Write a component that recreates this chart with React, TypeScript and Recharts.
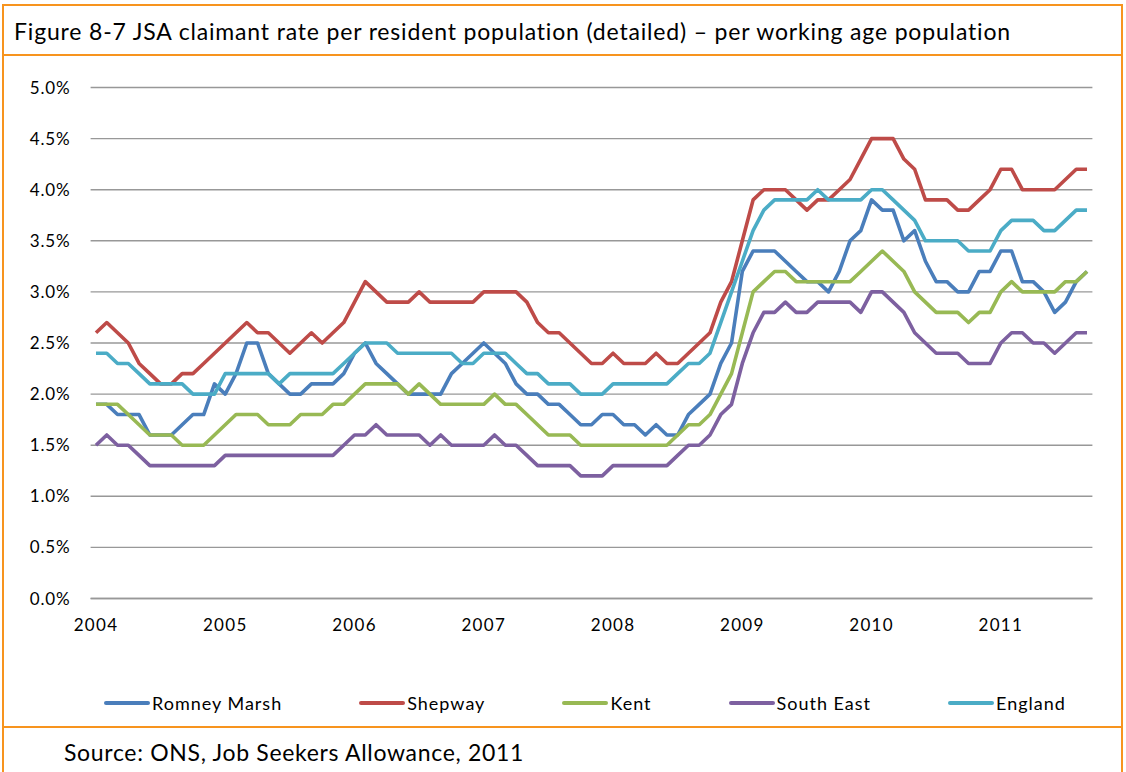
import React from 'react';
import { LineChart, Line, XAxis, YAxis, CartesianGrid, Legend } from 'recharts';

// Monthly data, Jan 2004 .. Sep 2011 (93 months), JSA claimant rate (%)
const yearLabels = ['2004', '2005', '2006', '2007', '2008', '2009', '2010', '2011'];
const yTicks = [0, 0.5, 1, 1.5, 2, 2.5, 3, 3.5, 4, 4.5, 5];

const romneyMarsh = [
  1.9, 1.9, 1.8, 1.8, 1.8, 1.6, 1.6, 1.6, 1.7, 1.8,
  1.8, 2.1, 2.0, 2.2, 2.5, 2.5, 2.2, 2.1, 2.0, 2.0,
  2.1, 2.1, 2.1, 2.2, 2.4, 2.5, 2.3, 2.2, 2.1, 2.0,
  2.0, 2.0, 2.0, 2.2, 2.3, 2.4, 2.5, 2.4, 2.3, 2.1,
  2.0, 2.0, 1.9, 1.9, 1.8, 1.7, 1.7, 1.8, 1.8, 1.7,
  1.7, 1.6, 1.7, 1.6, 1.6, 1.8, 1.9, 2.0, 2.3, 2.5,
  3.2, 3.4, 3.4, 3.4, 3.3, 3.2, 3.1, 3.1, 3.0, 3.2,
  3.5, 3.6, 3.9, 3.8, 3.8, 3.5, 3.6, 3.3, 3.1, 3.1,
  3.0, 3.0, 3.2, 3.2, 3.4, 3.4, 3.1, 3.1, 3.0, 2.8,
  2.9, 3.1, 3.2,
];

const shepway = [
  2.6, 2.7, 2.6, 2.5, 2.3, 2.2, 2.1, 2.1, 2.2, 2.2,
  2.3, 2.4, 2.5, 2.6, 2.7, 2.6, 2.6, 2.5, 2.4, 2.5,
  2.6, 2.5, 2.6, 2.7, 2.9, 3.1, 3.0, 2.9, 2.9, 2.9,
  3.0, 2.9, 2.9, 2.9, 2.9, 2.9, 3.0, 3.0, 3.0, 3.0,
  2.9, 2.7, 2.6, 2.6, 2.5, 2.4, 2.3, 2.3, 2.4, 2.3,
  2.3, 2.3, 2.4, 2.3, 2.3, 2.4, 2.5, 2.6, 2.9, 3.1,
  3.5, 3.9, 4.0, 4.0, 4.0, 3.9, 3.8, 3.9, 3.9, 4.0,
  4.1, 4.3, 4.5, 4.5, 4.5, 4.3, 4.2, 3.9, 3.9, 3.9,
  3.8, 3.8, 3.9, 4.0, 4.2, 4.2, 4.0, 4.0, 4.0, 4.0,
  4.1, 4.2, 4.2,
];

const kent = [
  1.9, 1.9, 1.9, 1.8, 1.7, 1.6, 1.6, 1.6, 1.5, 1.5,
  1.5, 1.6, 1.7, 1.8, 1.8, 1.8, 1.7, 1.7, 1.7, 1.8,
  1.8, 1.8, 1.9, 1.9, 2.0, 2.1, 2.1, 2.1, 2.1, 2.0,
  2.1, 2.0, 1.9, 1.9, 1.9, 1.9, 1.9, 2.0, 1.9, 1.9,
  1.8, 1.7, 1.6, 1.6, 1.6, 1.5, 1.5, 1.5, 1.5, 1.5,
  1.5, 1.5, 1.5, 1.5, 1.6, 1.7, 1.7, 1.8, 2.0, 2.2,
  2.6, 3.0, 3.1, 3.2, 3.2, 3.1, 3.1, 3.1, 3.1, 3.1,
  3.1, 3.2, 3.3, 3.4, 3.3, 3.2, 3.0, 2.9, 2.8, 2.8,
  2.8, 2.7, 2.8, 2.8, 3.0, 3.1, 3.0, 3.0, 3.0, 3.0,
  3.1, 3.1, 3.2,
];

const southEast = [
  1.5, 1.6, 1.5, 1.5, 1.4, 1.3, 1.3, 1.3, 1.3, 1.3,
  1.3, 1.3, 1.4, 1.4, 1.4, 1.4, 1.4, 1.4, 1.4, 1.4,
  1.4, 1.4, 1.4, 1.5, 1.6, 1.6, 1.7, 1.6, 1.6, 1.6,
  1.6, 1.5, 1.6, 1.5, 1.5, 1.5, 1.5, 1.6, 1.5, 1.5,
  1.4, 1.3, 1.3, 1.3, 1.3, 1.2, 1.2, 1.2, 1.3, 1.3,
  1.3, 1.3, 1.3, 1.3, 1.4, 1.5, 1.5, 1.6, 1.8, 1.9,
  2.3, 2.6, 2.8, 2.8, 2.9, 2.8, 2.8, 2.9, 2.9, 2.9,
  2.9, 2.8, 3.0, 3.0, 2.9, 2.8, 2.6, 2.5, 2.4, 2.4,
  2.4, 2.3, 2.3, 2.3, 2.5, 2.6, 2.6, 2.5, 2.5, 2.4,
  2.5, 2.6, 2.6,
];

const england = [
  2.4, 2.4, 2.3, 2.3, 2.2, 2.1, 2.1, 2.1, 2.1, 2.0,
  2.0, 2.0, 2.2, 2.2, 2.2, 2.2, 2.2, 2.1, 2.2, 2.2,
  2.2, 2.2, 2.2, 2.3, 2.4, 2.5, 2.5, 2.5, 2.4, 2.4,
  2.4, 2.4, 2.4, 2.4, 2.3, 2.3, 2.4, 2.4, 2.4, 2.3,
  2.2, 2.2, 2.1, 2.1, 2.1, 2.0, 2.0, 2.0, 2.1, 2.1,
  2.1, 2.1, 2.1, 2.1, 2.2, 2.3, 2.3, 2.4, 2.7, 3.0,
  3.3, 3.6, 3.8, 3.9, 3.9, 3.9, 3.9, 4.0, 3.9, 3.9,
  3.9, 3.9, 4.0, 4.0, 3.9, 3.8, 3.7, 3.5, 3.5, 3.5,
  3.5, 3.4, 3.4, 3.4, 3.6, 3.7, 3.7, 3.7, 3.6, 3.6,
  3.7, 3.8, 3.8,
];

const seriesKeys = ['romneyMarsh', 'shepway', 'kent', 'southEast', 'england'];
const seriesNames = ['Romney Marsh', 'Shepway', 'Kent', 'South East', 'England'];
const seriesColors = ['#4A7EBB', '#BE4B48', '#98B954', '#7D60A0', '#4BACC6'];

const data = romneyMarsh.map((_, i) => ({
  i,
  romneyMarsh: romneyMarsh[i],
  shepway: shepway[i],
  kent: kent[i],
  southEast: southEast[i],
  england: england[i],
}));

const ORANGE = '#F7941E';
const FONT = 'Lato, "Noto Sans", sans-serif';

const renderLegend = () => (
  <div
    style={{
      display: 'flex',
      alignItems: 'center',
      paddingLeft: 104,
      gap: 77,
      height: 30,
      fontFamily: FONT,
      fontSize: 18,
      letterSpacing: 1.0,
      color: '#000',
    }}
  >
    {seriesNames.map((name, k) => (
      <div key={name} style={{ display: 'flex', alignItems: 'center' }}>
        <span
          style={{
            display: 'inline-block',
            width: 46,
            height: 4,
            borderRadius: 2,
            background: seriesColors[k],
            marginRight: 2,
          }}
        />
        <span>{name}</span>
      </div>
    ))}
  </div>
);

export default function App() {
  return (
    <div
      style={{
        position: 'absolute',
        left: 0,
        top: 0,
        width: 1126,
        height: 772,
        background: '#fff',
        overflow: 'hidden',
        fontFamily: FONT,
      }}
    >
      {/* title box */}
      <div
        style={{
          position: 'absolute',
          left: 2,
          top: 4,
          width: 1121,
          height: 52,
          border: `2px solid ${ORANGE}`,
          boxSizing: 'border-box',
        }}
      />
      <div
        style={{
          position: 'absolute',
          left: 14,
          top: 16,
          fontSize: 23,
          letterSpacing: 0.83,
          color: '#000',
          whiteSpace: 'nowrap',
          lineHeight: '30px',
        }}
      >
        Figure 8-7 JSA claimant rate per resident population (detailed) – per working age population
      </div>
      {/* chart section side borders */}
      <div style={{ position: 'absolute', left: 2, top: 55, width: 2, height: 717, background: ORANGE }} />
      <div style={{ position: 'absolute', left: 1121, top: 55, width: 2, height: 672, background: ORANGE }} />
      {/* source box */}
      <div
        style={{
          position: 'absolute',
          left: 2,
          top: 726,
          width: 1121,
          height: 60,
          borderTop: `2px solid ${ORANGE}`,
          borderLeft: `2px solid ${ORANGE}`,
          borderRight: `2px solid ${ORANGE}`,
          boxSizing: 'border-box',
        }}
      />
      <div
        style={{
          position: 'absolute',
          left: 64,
          top: 737,
          fontSize: 23,
          letterSpacing: 0.68,
          color: '#000',
          whiteSpace: 'nowrap',
          lineHeight: '30px',
        }}
      >
        Source: ONS, Job Seekers Allowance, 2011
      </div>

      <div style={{ position: 'absolute', left: 0, top: 0 }}>
        <LineChart
          width={1126}
          height={740}
          data={data}
          margin={{ top: 87.5, right: 33.6, left: 0, bottom: 22 }}
        >
          <CartesianGrid horizontal vertical={false} stroke="#989898" strokeWidth={1.4} />
          <XAxis
            type="number"
            dataKey="i"
            domain={[-0.5, 92.5]}
            ticks={[0, 12, 24, 36, 48, 60, 72, 84]}
            tickFormatter={(v: number) => yearLabels[Math.round(v / 12)]}
            axisLine={{ stroke: '#989898', strokeWidth: 1.4 }}
            tickLine={false}
            tickSize={0}
            tickMargin={20}
            height={89.5}
            interval={0}
            tick={{ fill: '#000', fontSize: 17, fontFamily: FONT, letterSpacing: 1.3 }}
          />
          <YAxis
            type="number"
            domain={[0, 5]}
            ticks={yTicks}
            tickFormatter={(v: number) => v.toFixed(1) + '%'}
            axisLine={false}
            tickLine={false}
            tickSize={0}
            tickMargin={20}
            width={90.6}
            interval={0}
            tick={{ fill: '#000', fontSize: 17, fontFamily: FONT, letterSpacing: 0.9 }}
          />
          <Legend
            verticalAlign="bottom"
            content={renderLegend}
            wrapperStyle={{ left: 0, width: 1126, height: 30 }}
          />
          {seriesKeys.map((k, idx) => (
            <Line
              key={k}
              type="linear"
              dataKey={k}
              name={seriesNames[idx]}
              stroke={seriesColors[idx]}
              strokeWidth={3.6}
              strokeLinejoin="round"
              dot={false}
              activeDot={false}
              isAnimationActive={false}
            />
          ))}
        </LineChart>
      </div>
    </div>
  );
}
